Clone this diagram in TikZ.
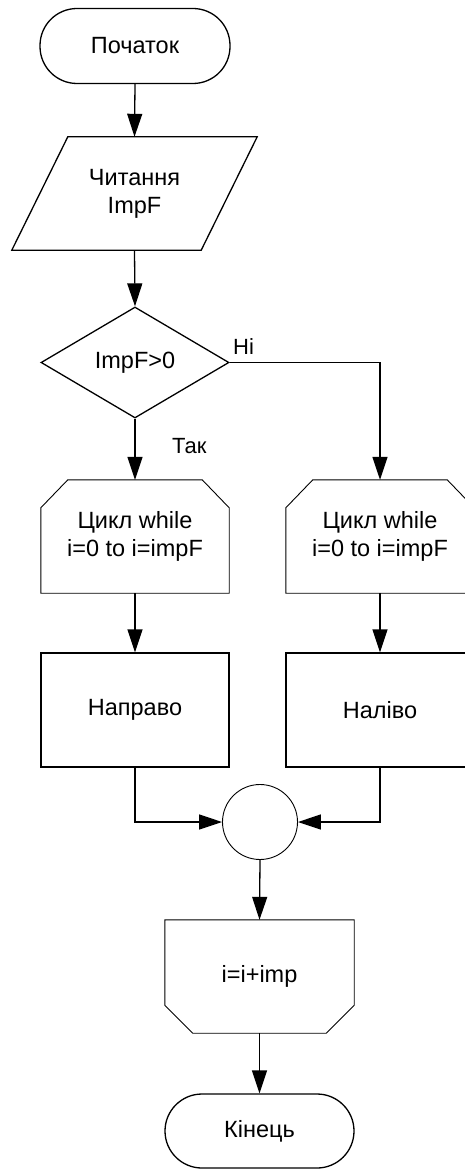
\documentclass[tikz,border=0pt]{standalone}
\usepackage{fontspec}
\setmainfont{Liberation Sans}
\usetikzlibrary{shapes.geometric,arrows.meta,calc}

\begin{document}
\begin{tikzpicture}[x=1pt,y=1pt,
  txt/.style={font=\fontsize{23.5}{28}\selectfont, align=center, inner sep=0pt},
  lbl/.style={font=\fontsize{22}{24}\selectfont, inner sep=0pt},
  term/.style={txt, draw, line width=1.3pt, rectangle, rounded corners=37pt,
    minimum width=190pt, minimum height=75pt},
  proc/.style={txt, draw, line width=1.3pt, rectangle,
    minimum width=188pt, minimum height=114pt},
  decide/.style={txt, draw, line width=1.3pt, diamond,
    minimum width=188pt, minimum height=111pt},
  loopbox/.style={txt, rectangle, minimum width=188pt, minimum height=113pt},
  loopline/.style={line width=0.9pt},
  joint/.style={draw, line width=0.9pt, circle, minimum size=75pt, inner sep=0pt},
  flow/.style={line width=1.3pt, -{Triangle[length=23pt,width=15pt]}}
]
\useasboundingbox (0,0) rectangle (465,-1169);

% start / input
\node[term] (start) at (135,-46) {Початок};
\node[txt, minimum width=189pt, minimum height=113pt] (read) at (134.5,-193.5) {Читання\\ImpF};
\draw[line width=1.3pt] ($(read.south west)+(-28,0)$) -- ($(read.south east)+(-28,0)$)
  -- ($(read.north east)+(28,0)$) -- ($(read.north west)+(28,0)$) -- cycle;

% decision
\node[decide] (dec) at (135,-362.5) {ImpF>0};

% two loop headers (top corners cut)
\node[loopbox] (loopL) at (135,-536.5) {Цикл while\\i=0 to i=impF};
\node[loopbox] (loopR) at (380,-536.5) {Цикл while\\i=0 to i=impF};
\foreach \b in {loopL,loopR}{
  \draw[loopline] (\b.south west) -- ($(\b.north west)+(0,-28)$) -- ($(\b.north west)+(27,0)$)
    -- ($(\b.north east)+(-27,0)$) -- ($(\b.north east)+(0,-28)$) -- (\b.south east) -- cycle;
}

% actions
\node[proc] (procL) at (135,-710) {Направо};
\node[proc] (procR) at (380,-710) {Наліво};

% merge point
\node[joint] (conn) at (260,-822) {};

% loop end (bottom corners cut) and terminator
\node[loopbox, minimum width=189pt] (loopEnd) at (259.5,-976.5) {i=i+imp};
\draw[loopline] (loopEnd.north west) -- ($(loopEnd.south west)+(0,28)$) -- ($(loopEnd.south west)+(28,0)$)
  -- ($(loopEnd.south east)+(-28,0)$) -- ($(loopEnd.south east)+(0,28)$) -- (loopEnd.north east) -- cycle;
\node[term, minimum width=189pt, minimum height=74pt] (stop) at (259.5,-1131) {Кінець};

% branch labels
\node[lbl, anchor=base west] (yes) at (172,-453) {Так};
\node[lbl, anchor=base west] (no) at (233,-354) {Ні};

% connectors
\draw[flow] (start.south) -- (read.north);
\draw[flow] (read.south) -- (dec.north);
\draw[flow] (dec.south) -- (loopL.north);
\draw[flow] (dec.east) -| (loopR.north);
\draw[flow] (loopL.south) -- (procL.north);
\draw[flow] (loopR.south) -- (procR.north);
\draw[flow] (procL.south) |- (conn.west);
\draw[flow] (procR.south) |- (conn.east);
\draw[flow] (conn.south) -- (loopEnd.north);
\draw[flow] (loopEnd.south) -- (stop.north);
\end{tikzpicture}
\end{document}
